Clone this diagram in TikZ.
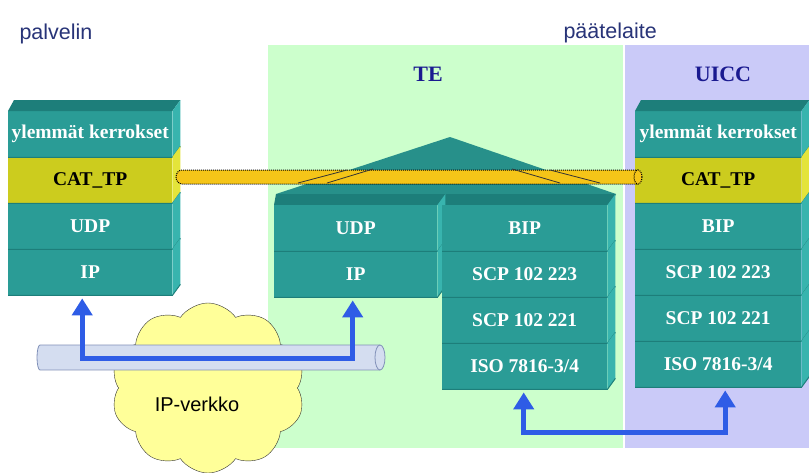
\documentclass[tikz,border=0pt]{standalone}
\usepackage{fontspec}
\setmainfont{Liberation Serif}
\setsansfont{Liberation Sans}
\usetikzlibrary{arrows.meta,shapes.symbols,calc}
\definecolor{tealF}{HTML}{2A9C96}
\definecolor{tealT}{HTML}{1D7E7A}
\definecolor{tealS}{HTML}{38B4AE}
\definecolor{yelF}{HTML}{CCCC1E}
\definecolor{yelS}{HTML}{E4E43A}
\definecolor{greenBG}{HTML}{CCFFCC}
\definecolor{purpBG}{HTML}{CACAF8}
\definecolor{arrowBlue}{HTML}{2E5CE6}
\definecolor{tubeY}{HTML}{F5C518}
\definecolor{cloudY}{HTML}{FFFF99}
\definecolor{pipeF}{HTML}{D4DDF0}
\definecolor{pipeD}{HTML}{8090B8}
\definecolor{titleBlue}{HTML}{283478}
\definecolor{headBlue}{HTML}{1A1A90}
\tikzset{
  lay/.style={fill=tealF, minimum height=46pt, inner sep=0pt, anchor=north west,
    font=\bfseries\fontsize{19.5}{21}\selectfont, text=white},
  catlay/.style={lay, fill=yelF, text=black},
  barrow/.style={draw=arrowBlue, line width=5pt, {Triangle[width=20pt,length=17pt]}-{Triangle[width=20pt,length=17pt]}},
  lbl/.style={font=\sffamily\fontsize{21.5}{23}\selectfont, text=titleBlue, anchor=west},
  head/.style={font=\bfseries\fontsize{22}{24}\selectfont, text=headBlue},
}
% #1 name, #2 side color
\newcommand\sideface[2]{\fill[#2] (#1.north east) -- ++(8,-11) -- ++(0,46) -- (#1.south east) -- cycle;
  \draw[tealT, line width=1pt] (#1.south west) -- (#1.south east) -- ++(8,-11);}
\newcommand\topface[1]{\fill[tealT] (#1.north west) -- ++(6,-11) -- ($(#1.north east)+(8,-11)$) -- (#1.north east) -- cycle;}
\begin{document}
\begin{tikzpicture}[x=1pt,y=-1pt]
\useasboundingbox (0,0) rectangle (809,472);
\fill[white] (0,0) rectangle (809,472);
% backgrounds
\fill[greenBG] (268,45) rectangle (623,448);
\fill[purpBG] (625,45) rectangle (809,448);
\node[lbl] (palvelin) at (16,34) {palvelin};
\node[lbl] (paate) at (560,33) {päätelaite};
\node[head] (te) at (428,74) {TE};
\node[head] (uicc) at (723,74) {UICC};
% cloud
\node[cloud, cloud puffs=10, cloud puff arc=110, aspect=1.1, draw=black!80, fill=cloudY,
  minimum width=194pt, minimum height=170pt] (cloud) at (208,388) {};
\node[font=\sffamily\fontsize{20}{22}\selectfont] (cloudtxt) at (197,404) {IP-verkko};
% grey pipe
\fill[pipeF] (40,345) rectangle (380,370);
\fill[pipeF] (40,357.5) ellipse[x radius=3, y radius=12.5];
\draw[pipeD, line width=0.8pt] (380,345) -- (40,345) arc[start angle=270,end angle=90,x radius=3,y radius=12.5] -- (380,370);
\draw[pipeD, fill=pipeF, line width=0.8pt] (380,357.5) ellipse[x radius=5, y radius=12.5];
% left stack
\node[lay, minimum width=164pt] (ylL) at (8,111) {ylemmät kerrokset};
\node[catlay, minimum width=164pt] (catL) at (8,157) {CAT\_TP};
\node[lay, minimum width=164pt] (udpL) at (8,203) {UDP};
\node[lay, minimum width=164pt] (ipL) at (8,249) {IP};
\topface{ylL}
\sideface{ylL}{tealS}\sideface{catL}{yelS}\sideface{udpL}{tealS}\sideface{ipL}{tealS}
% TE roof
\fill[tealF!92!black] (450,137) -- (616,194) -- (276,194) -- cycle;
\fill[tealT] (276,194) -- (616,194) -- (611,205) -- (274,205) -- cycle;
% TE stacks
\node[lay, minimum width=163pt] (udpT) at (274,205) {UDP};
\node[lay, minimum width=163pt] (ipT) at (274,251) {IP};
\sideface{udpT}{tealS}\sideface{ipT}{tealS}
\node[lay, minimum width=165pt] (bipT) at (442,205) {BIP};
\node[lay, minimum width=165pt] (scp3T) at (442,251) {SCP 102 223};
\node[lay, minimum width=165pt] (scp1T) at (442,297) {SCP 102 221};
\node[lay, minimum width=165pt] (isoT) at (442,343) {ISO 7816-3/4};
\sideface{bipT}{tealS}\sideface{scp3T}{tealS}\sideface{scp1T}{tealS}\sideface{isoT}{tealS}
% UICC stack
\node[lay, minimum width=166pt] (ylU) at (635,111) {ylemmät kerrokset};
\node[catlay, minimum width=166pt] (catU) at (635,157) {CAT\_TP};
\node[lay, minimum width=166pt] (bipU) at (635,203) {BIP};
\node[lay, minimum width=166pt] (scp3U) at (635,249) {SCP 102 223};
\node[lay, minimum width=166pt] (scp1U) at (635,295) {SCP 102 221};
\node[lay, minimum width=166pt] (isoU) at (635,341) {ISO 7816-3/4};
\topface{ylU}
\sideface{ylU}{tealS}\sideface{catU}{yelS}\sideface{bipU}{tealS}\sideface{scp3U}{tealS}\sideface{scp1U}{tealS}\sideface{isoU}{tealS}
% yellow tube
\fill[tubeY] (182,170) rectangle (638,184);
\fill[tubeY] (182,177) ellipse[x radius=6, y radius=7];
\draw[black, densely dotted, line width=1pt] (638,170) -- (182,170) arc[start angle=270,end angle=90,x radius=6,y radius=7] -- (638,184);
\draw[black, densely dotted, fill=tubeY, line width=1pt] (638,177) ellipse[x radius=4, y radius=7];
% roof edges seen through tube
\draw[black!80, line width=0.8pt] (298,183) -- (347,170) (327,183) -- (373,169)
  (512,169) -- (560,183) (550,170) -- (600,183);
% blue arrows
\coordinate (a1) at ($(ipL.south)+(-8,3)$);
\coordinate (a2) at ($(ipT.south)+(-3,3)$);
\coordinate (b1) at ($(isoT.south)+(-1,3)$);
\coordinate (b2) at ($(isoU.south)+(7,3)$);
\coordinate (h1) at (0,358);
\coordinate (h2) at (0,432);
\draw[barrow] (a1) -- (a1 |- h1) -- (a2 |- h1) -- (a2);
\draw[barrow] (b1) -- (b1 |- h2) -- (b2 |- h2) -- (b2);
\end{tikzpicture}
\end{document}
